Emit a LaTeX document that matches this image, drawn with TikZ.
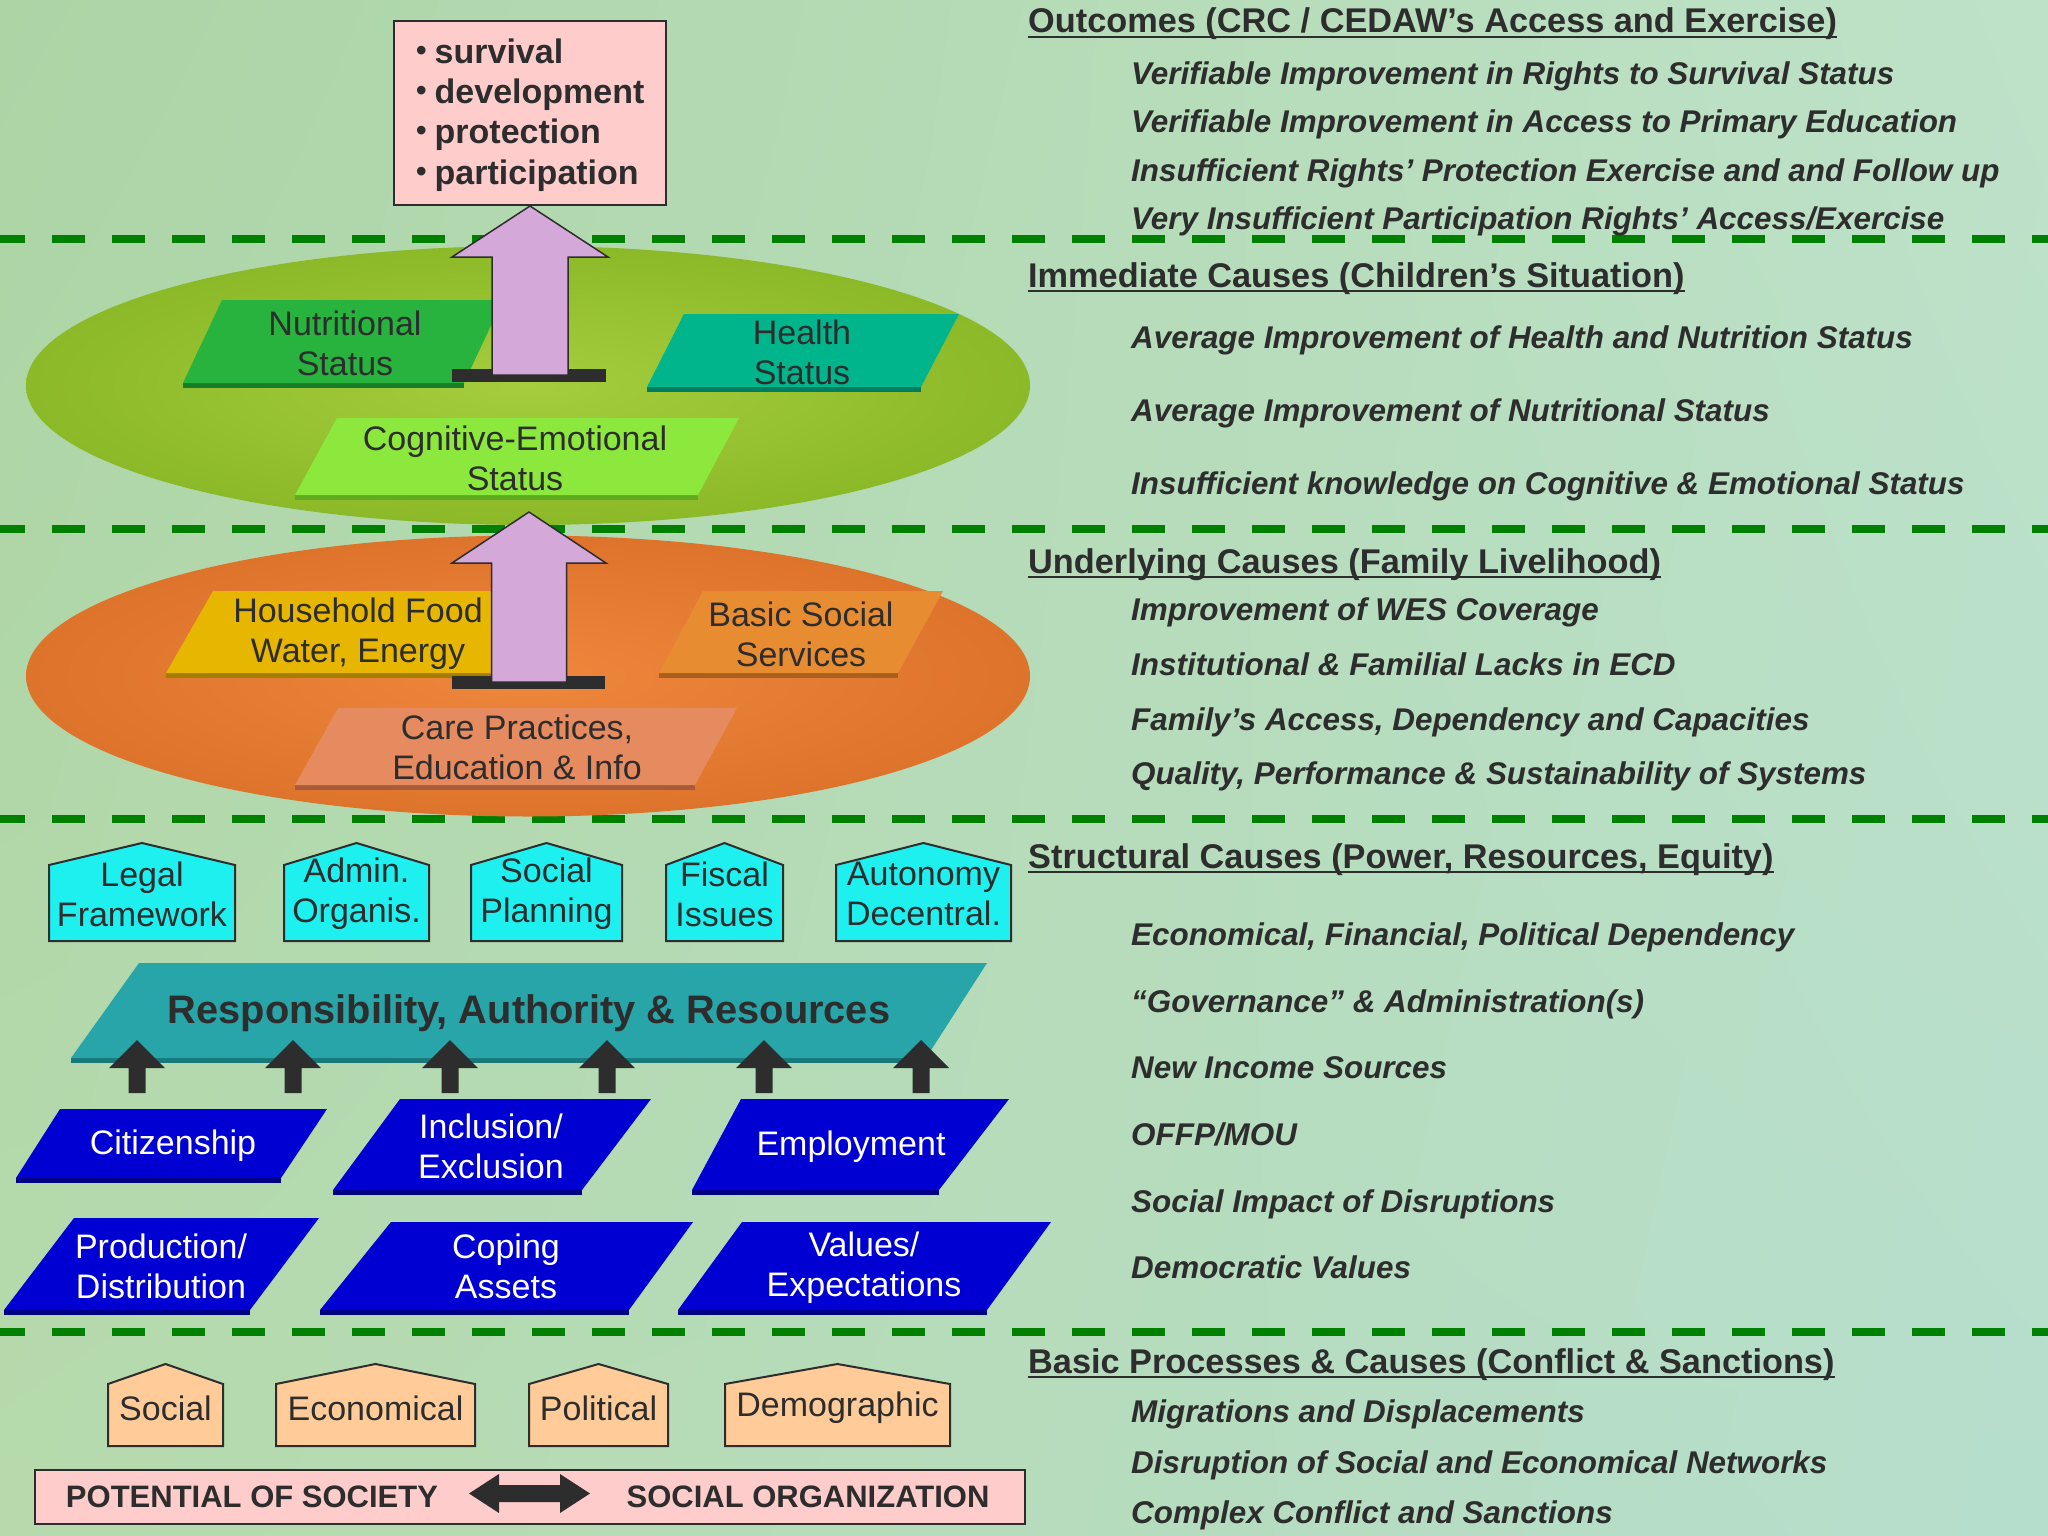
\documentclass[tikz,border=0pt]{standalone}
\usepackage{fontspec}
\usetikzlibrary{shadings}
\setmainfont{Liberation Sans}
\definecolor{txt}{RGB}{45,45,45}
\definecolor{sepg}{RGB}{0,128,0}
\definecolor{pinkbox}{RGB}{255,204,204}
\definecolor{lav}{RGB}{212,168,216}
\definecolor{gIn}{RGB}{165,205,62}
\definecolor{gOut}{RGB}{140,185,40}
\definecolor{oIn}{RGB}{238,134,60}
\definecolor{oOut}{RGB}{222,116,44}
\definecolor{nutr}{RGB}{40,178,62}
\definecolor{nutrD}{RGB}{25,125,40}
\definecolor{hlth}{RGB}{0,180,140}
\definecolor{hlthD}{RGB}{0,125,95}
\definecolor{cogn}{RGB}{140,232,60}
\definecolor{cognD}{RGB}{95,170,30}
\definecolor{hh}{RGB}{230,182,0}
\definecolor{hhD}{RGB}{165,125,0}
\definecolor{bss}{RGB}{232,140,50}
\definecolor{bssD}{RGB}{170,95,30}
\definecolor{care}{RGB}{230,138,96}
\definecolor{careD}{RGB}{170,90,60}
\definecolor{cyanh}{RGB}{30,240,240}
\definecolor{tealbar}{RGB}{40,165,168}
\definecolor{tealD}{RGB}{25,120,122}
\definecolor{blu}{RGB}{0,0,210}
\definecolor{bluD}{RGB}{0,0,130}
\definecolor{peach}{RGB}{255,204,153}
\definecolor{bgA}{RGB}{172,212,165}
\definecolor{bgB}{RGB}{190,226,200}
\definecolor{bgC}{RGB}{182,218,172}
\definecolor{bgD}{RGB}{182,222,205}
\newcommand\bx{\fontsize{34}{40}\selectfont}
\newcommand\hdf{\fontsize{34.3}{40}\selectfont\bfseries}
\newcommand\itf{\fontsize{31.4}{37}\selectfont\bfseries\itshape}
\newcommand\rbf{\fontsize{39.8}{46}\selectfont\bfseries}
\newcommand\pbf{\fontsize{31}{36}\selectfont\bfseries}
\newcommand\lbf{\fontsize{34}{40}\selectfont\bfseries}
\newcommand\bul{{\fontsize{30}{30}\selectfont\raisebox{3pt}{•}}\hspace{8pt}}
% parallelogram: TLx TRx BLx BRx topy boty fill strip
\newcommand\myplg[8]{%
  \fill[#8] (#3,#6) -- (#4,#6) -- (#4,#6+5) -- (#3,#6+5) -- cycle;
  \fill[#7] (#1,#5) -- (#2,#5) -- (#4,#6) -- (#3,#6) -- cycle;}
% house: x1 x2 peak eave bottom fill
\newcommand\myhouse[6]{%
  \filldraw[fill=#6, draw=txt, line width=2pt] (#1,#5) -- (#1,#4) -- ({(#1+#2)/2},#3) -- (#2,#4) -- (#2,#5) -- cycle;}
% up block arrow: tip, head half width, head length, shaft half width, length, style
\newcommand\uparr[6]{%
  \path[#6] (#1) -- ++(#2,#3) -- ++({-(#2-#4)},0) -- ++(0,{#5-#3}) -- ++({-2*#4},0) -- ++(0,{-(#5-#3)}) -- ++({-(#2-#4)},0) -- cycle;}
\begin{document}
\begin{tikzpicture}[x=1pt,y=-1pt,
  lbl/.style={inner sep=0pt, align=center, text=txt, font=\bx},
  wlbl/.style={inner sep=0pt, align=center, text=white, font=\bx},
  hd/.style={inner sep=0pt, anchor=base west, text=txt, font=\hdf},
  itm/.style={inner sep=0pt, anchor=base west, text=txt, font=\itf},
  lst/.style={inner sep=0pt, anchor=base west, text=txt, font=\lbf},
  sepline/.style={line width=8.5pt, draw=sepg, dash pattern=on 33pt off 27pt},
  uline/.style={draw=txt, line width=2.2pt}]
\useasboundingbox (0,0) rectangle (2048,1536);
\shade[upper left=bgA, upper right=bgB, lower left=bgC, lower right=bgD] (0,0) rectangle (2048,1536);

% separators
\foreach \yy in {239,529,819,1332} \draw[sepline] (-8,\yy) -- (2060,\yy);

% ellipses
\shade[inner color=gIn, outer color=gOut] (528,385.5) ellipse [x radius=502, y radius=139.5];
\shade[inner color=oIn, outer color=oOut] (528,676) ellipse [x radius=502, y radius=140.5];

% outcome box
\node[draw=txt, line width=2pt, fill=pinkbox, minimum width=272pt, minimum height=184pt, anchor=north west, inner sep=0pt] (outc) at (393,20) {};
\node[lst] (o1) at (416,64) {\bul survival};
\node[lst] (o2) at (416,104) {\bul development};
\node[lst] (o3) at (416,144) {\bul protection};
\node[lst] (o4) at (416,184) {\bul participation};

% immediate causes boxes
\myplg{222}{503}{183}{464}{300}{383}{nutr}{nutrD}
\myplg{684}{959}{647}{921}{314}{387}{hlth}{hlthD}
\myplg{337}{739}{295}{698}{418}{495}{cogn}{cognD}
\node[lbl] (nutrit) at (345,343) {Nutritional\\Status};
\node[lbl] (health) at (802,352) {Health\\Status};
\node[lbl] (cognit) at (515,458) {Cognitive-Emotional\\Status};

% underlying causes boxes
\myplg{213}{538}{166}{492}{591}{673}{hh}{hhD}
\myplg{703}{943}{659}{898}{591}{673}{bss}{bssD}
\myplg{338}{737}{295}{695}{708}{785}{care}{careD}
\node[lbl] (house) at (358,634) {Household Food\\Water, Energy};
\node[lbl] (basic) at (801,634) {Basic Social\\Services};
\node[lbl] (carep) at (517,747) {Care Practices,\\Education \& Info};

% big arrows
\coordinate (tipA) at (outc.south);
\fill[txt] (452,369) rectangle (606,382);
\uparr{tipA}{78}{51}{38}{169}{fill=lav, draw=txt, line width=1.5pt}
\coordinate (tipB) at (529,512);
\fill[txt] (452,676) rectangle (605,689);
\uparr{tipB}{77}{51}{37.5}{170}{fill=lav, draw=txt, line width=1.5pt}

% structural houses
\myhouse{49}{235}{843}{865}{941}{cyanh}
\myhouse{284}{429}{843}{865}{941}{cyanh}
\myhouse{471}{622}{843}{865}{941}{cyanh}
\myhouse{666}{783}{843}{865}{941}{cyanh}
\myhouse{836}{1011}{843}{865}{941}{cyanh}
\node[lbl] (legal) at (142,894) {Legal\\Framework};
\node[lbl] (admin) at (356.5,894) {Admin.\\Organis.};
\node[lbl] (splan) at (546.5,894) {Social\\Planning};
\node[lbl] (fisc) at (724.5,894) {Fiscal\\Issues};
\node[lbl] (auton) at (923.5,894) {Autonomy\\Decentral.};

% responsibility bar
\myplg{139}{987}{71}{926}{963}{1058}{tealbar}{tealD}
\node[inner sep=0pt, text=txt, font=\rbf] (resp) at (529,1013) {Responsibility, Authority \& Resources};

% small arrows
\foreach \cx [count=\k] in {137,293,450,607,764,921}{
  \coordinate (st\k) at (\cx,1040);
  \uparr{st\k}{28}{28}{8.5}{53}{fill=txt}
}

% blue boxes
\myplg{60}{327}{16}{281}{1109}{1178}{blu}{bluD}
\myplg{400}{651}{333}{582}{1099}{1190}{blu}{bluD}
\myplg{741}{1009}{692}{939}{1099}{1190}{blu}{bluD}
\myplg{74}{319}{4}{250}{1218}{1310}{blu}{bluD}
\myplg{391}{693}{320}{629}{1222}{1310}{blu}{bluD}
\myplg{742}{1051}{678}{987}{1222}{1310}{blu}{bluD}
\node[wlbl] (citiz) at (173,1146) {Citizenship};
\node[wlbl] (inclu) at (491,1146) {Inclusion/\\Exclusion};
\node[wlbl] (emplo) at (851,1147) {Employment};
\node[wlbl] (produ) at (161,1266) {Production/\\Distribution};
\node[wlbl] (copin) at (506,1266) {Coping\\Assets};
\node[wlbl] (value) at (864,1268) {Values/\\Expectations};

% basic houses
\myhouse{108}{223}{1364}{1384}{1446}{peach}
\myhouse{276}{475}{1364}{1384}{1446}{peach}
\myhouse{529}{668}{1364}{1384}{1446}{peach}
\myhouse{725}{950}{1364}{1384}{1446}{peach}
\node[lbl] (bsoc) at (165.5,1408) {Social};
\node[lbl] (beco) at (375.5,1408) {Economical};
\node[lbl] (bpol) at (598.5,1408) {Political};
\node[lbl] (bdem) at (837.5,1408) {Demographic};

% bottom bar
\node[draw=txt, line width=2pt, fill=pinkbox, minimum width=990pt, minimum height=54pt, anchor=north west, inner sep=0pt] (potbar) at (34,1469) {};
\node[inner sep=0pt, text=txt, font=\pbf] (pot) at (252,1497) {POTENTIAL OF SOCIETY};
\node[inner sep=0pt, text=txt, font=\pbf] (sorg) at (808,1497) {SOCIAL ORGANIZATION};
\fill[txt] (469,1493.5) -- (499,1474) -- (499,1485) -- (560,1485) -- (560,1474) -- (590,1493.5) -- (560,1513) -- (560,1502) -- (499,1502) -- (499,1513) -- cycle;

% right-hand text
\node[hd] (h1) at (1028,33) {Outcomes (CRC / CEDAW’s Access and Exercise)};
\node[itm] (i11) at (1131,85) {Verifiable Improvement in Rights to Survival Status};
\node[itm] (i12) at (1131,133) {Verifiable Improvement in Access to Primary Education};
\node[itm] (i13) at (1131,182) {Insufficient Rights’ Protection Exercise and and Follow up};
\node[itm] (i14) at (1131,229) {Very Insufficient Participation Rights’ Access/Exercise};

\node[hd] (h2) at (1028,287) {Immediate Causes (Children’s Situation)};
\node[itm] (i21) at (1131,348) {Average Improvement of Health and Nutrition Status};
\node[itm] (i22) at (1131,421) {Average Improvement of Nutritional Status};
\node[itm] (i23) at (1131,494) {Insufficient knowledge on Cognitive \& Emotional Status};

\node[hd] (h3) at (1028,573) {Underlying Causes (Family Livelihood)};
\node[itm] (i31) at (1131,620) {Improvement of WES Coverage};
\node[itm] (i32) at (1131,675) {Institutional \& Familial Lacks in ECD};
\node[itm] (i33) at (1131,730) {Family’s Access, Dependency and Capacities};
\node[itm] (i34) at (1131,784) {Quality, Performance \& Sustainability of Systems};

\node[hd] (h4) at (1028,868) {Structural Causes (Power, Resources, Equity)};
\node[itm] (i41) at (1131,945) {Economical, Financial, Political Dependency};
\node[itm] (i42) at (1131,1012) {“Governance” \& Administration(s)};
\node[itm] (i43) at (1131,1078) {New Income Sources};
\node[itm] (i44) at (1131,1145) {OFFP/MOU};
\node[itm] (i45) at (1131,1212) {Social Impact of Disruptions};
\node[itm] (i46) at (1131,1278) {Democratic Values};

\node[hd] (h5) at (1028,1373) {Basic Processes \& Causes (Conflict \& Sanctions)};
\node[itm] (i51) at (1131,1422) {Migrations and Displacements};
\node[itm] (i52) at (1131,1473) {Disruption of Social and Economical Networks};
\node[itm] (i53) at (1131,1523) {Complex Conflict and Sanctions};

\foreach \h in {h1,h2,h3,h4,h5}
  \draw[uline] ([yshift=-4pt]\h.base west) -- ([yshift=-4pt]\h.base east);
\end{tikzpicture}
\end{document}
